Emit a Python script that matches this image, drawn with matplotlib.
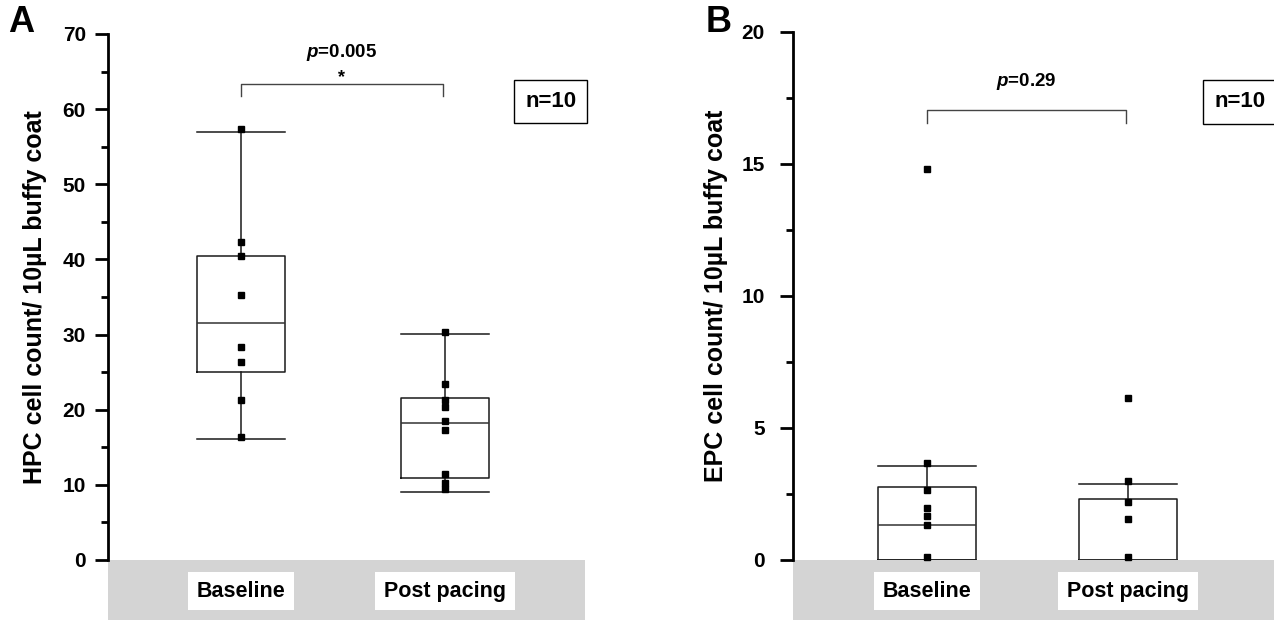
import matplotlib.pyplot as plt
import matplotlib.transforms as mtransforms
from matplotlib.patches import Rectangle
from matplotlib.ticker import MultipleLocator

plt.rcParams['font.family'] = ['Liberation Sans', 'DejaVu Sans']
plt.rcParams['font.weight'] = 'bold'
plt.rcParams['mathtext.fontset'] = 'custom'
plt.rcParams['mathtext.it'] = 'Liberation Sans:italic:bold'
plt.rcParams['mathtext.rm'] = 'Liberation Sans:bold'

groups = ["Baseline", "Post pacing"]

# panel A - HPC counts, box summaries and visible points
hpc_whislo = [16.1, 9.05]
hpc_q1 = [25.0, 10.9]
hpc_med = [31.6, 18.2]
hpc_q3 = [40.5, 21.5]
hpc_whishi = [57.0, 30.1]
hpc_points = [
    [57.3, 42.3, 40.5, 35.3, 28.3, 26.4, 21.3, 16.4],
    [30.4, 23.4, 21.3, 20.3, 18.5, 17.3, 11.4, 10.3, 9.4],
]
hpc_p = "0.005"

# panel B - EPC counts
epc_whislo = [0.0, 0.0]
epc_q1 = [0.0, 0.0]
epc_med = [1.32, 0.0]
epc_q3 = [2.77, 2.32]
epc_whishi = [3.57, 2.89]
epc_points = [
    [14.8, 3.68, 2.66, 1.98, 1.67, 1.32, 0.13],
    [6.12, 3.0, 2.2, 1.55, 0.13],
]
epc_p = "0.29"

n_label = "n=10"
LINE = "#1a1a1a"


def draw_panel(ax, whislo, q1, med, q3, whishi, points, ymax, major, minor,
               width, xlim, ylabel, label_x, p_text, star, br_y, br_drop,
               p_y, star_y, n_xy, pad):
    stats = []
    for i in range(len(groups)):
        stats.append(dict(whislo=whislo[i], q1=q1[i], med=med[i], q3=q3[i],
                          whishi=whishi[i], fliers=[]))
    ax.bxp(stats, positions=[1, 2], widths=width, capwidths=width,
           showfliers=False, manage_ticks=False,
           boxprops=dict(color=LINE, lw=1.1),
           whiskerprops=dict(color=LINE, lw=1.1),
           capprops=dict(color=LINE, lw=1.1),
           medianprops=dict(color="#333333", lw=1.1))
    for i, pts in enumerate(points):
        ax.plot([i + 1] * len(pts), pts, ls="none", marker="s", ms=4.2,
                color="black", zorder=5, clip_on=False)

    ax.set_xlim(*xlim)
    ax.set_ylim(0, ymax)
    ax.yaxis.set_major_locator(MultipleLocator(major))
    ax.yaxis.set_minor_locator(MultipleLocator(minor))
    ax.set_xticks([])
    for s in ["top", "right", "bottom"]:
        ax.spines[s].set_visible(False)
    ax.spines["left"].set_linewidth(2)
    ax.tick_params(axis="y", which="major", length=9.5, width=2,
                   labelsize=15, pad=pad)
    ax.tick_params(axis="y", which="minor", length=5, width=2)
    for lab in ax.get_yticklabels():
        lab.set_fontweight("bold")
    ax.set_ylabel(ylabel, fontsize=18, fontweight="bold")
    ax.yaxis.set_label_coords(label_x, 0.5)

    # grey band under the axis with white category boxes
    ax.add_patch(Rectangle((0, -0.13), 1, 0.13, transform=ax.transAxes,
                           facecolor="#d4d4d4", edgecolor="none",
                           clip_on=False, zorder=0))
    trans = mtransforms.blended_transform_factory(ax.transData, ax.transAxes)
    for i, g in enumerate(groups):
        ax.text(i + 1, -0.059, g, transform=trans, ha="center", va="center",
                fontsize=15.5, fontweight="bold", clip_on=False,
                bbox=dict(boxstyle="square,pad=0.4", facecolor="white",
                          edgecolor="none"))

    # significance bracket
    x1, x2 = 1.0, 1.99
    ax.plot([x1, x1, x2, x2], [br_y - br_drop, br_y, br_y, br_y - br_drop],
            color="#444444", lw=1.0, clip_on=False)
    ax.text((x1 + x2) / 2, p_y, r"$p$=" + p_text, ha="center", va="center",
            fontsize=13.5, fontweight="bold")
    if star:
        ax.text((x1 + x2) / 2, star_y, "*", ha="center", va="baseline",
                fontsize=13, fontweight="bold")

    ax.text(n_xy[0], n_xy[1], n_label, transform=ax.transAxes, ha="center",
            va="center", fontsize=16, fontweight="bold", clip_on=False,
            bbox=dict(boxstyle="square,pad=0.5", facecolor="white",
                      edgecolor="black", lw=1.0))


fig = plt.figure(figsize=(12.74, 6.2), dpi=100)
axA = fig.add_axes([0.0844, 0.0968, 0.3745, 0.8484])
axB = fig.add_axes([0.6227, 0.0968, 0.3773, 0.8521])

draw_panel(axA, hpc_whislo, hpc_q1, hpc_med, hpc_q3, hpc_whishi, hpc_points,
           70, 10, 5, 0.43, (0.3475, 2.683),
           "HPC cell count/ 10µL buffy coat", -0.127, hpc_p, True,
           63.4, 1.7, 67.6, 63.6, (0.929, 0.871), 6)
draw_panel(axB, epc_whislo, epc_q1, epc_med, epc_q3, epc_whishi, epc_points,
           20, 5, 2.5, 0.488, (0.333, 2.728),
           "EPC cell count/ 10µL buffy coat", -0.136, epc_p, False,
           17.05, 0.5, 18.1, 0, (0.929, 0.867), 11)

fig.text(8 / 1274, 1 - 32 / 620, "A", fontsize=26, fontweight="bold",
         va="baseline", ha="left")
fig.text(706 / 1274, 1 - 32 / 620, "B", fontsize=26, fontweight="bold",
         va="baseline", ha="left")

fig.savefig("out.png", dpi=100)
